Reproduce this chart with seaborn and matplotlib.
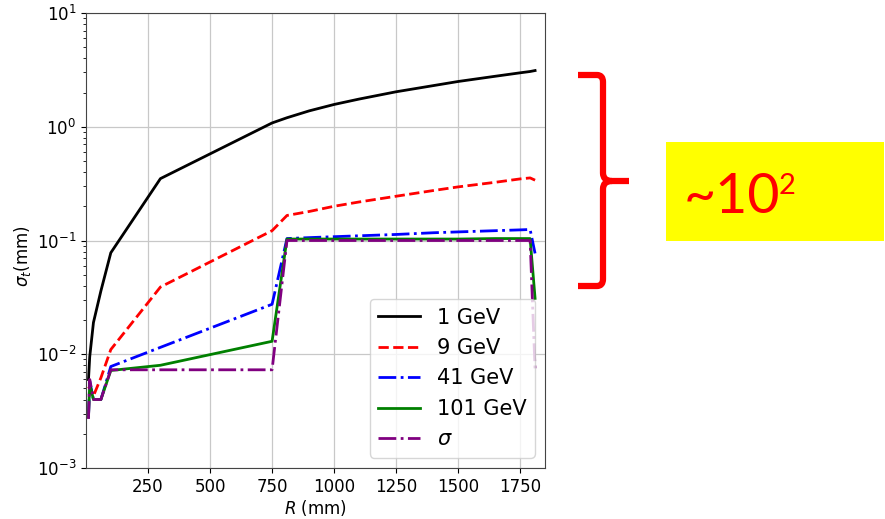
import matplotlib
matplotlib.use("Agg")
import matplotlib.pyplot as plt
import seaborn as sns
from matplotlib.path import Path
from matplotlib.patches import PathPatch, Rectangle

# Radial positions (mm) and transverse resolution sigma_t (mm) per beam energy
R = [10, 15, 30, 60, 100, 300, 750, 810, 900, 1000, 1100, 1250, 1400, 1500, 1650, 1750, 1790, 1810]

sig_1gev = [0.0060, 0.0095, 0.019, 0.036, 0.078, 0.35, 1.08, 1.20, 1.38, 1.57, 1.75, 2.03, 2.30, 2.50, 2.78, 2.98, 3.06, 3.12]
sig_9gev = [0.0050, 0.0052, 0.0043, 0.0062, 0.011, 0.039, 0.122, 0.166, 0.180, 0.200, 0.218, 0.245, 0.275, 0.296, 0.325, 0.348, 0.355, 0.339]
sig_41gev = [0.0028, 0.0058, 0.0040, 0.0040, 0.0078, 0.0115, 0.0275, 0.104, 0.106, 0.108, 0.110, 0.113, 0.117, 0.119, 0.122, 0.124, 0.125, 0.077]
sig_101gev = [0.0028, 0.0055, 0.0040, 0.0040, 0.0072, 0.0080, 0.013, 0.103, 0.103, 0.103, 0.103, 0.103, 0.103, 0.103, 0.104, 0.104, 0.104, 0.031]
sig_intr = [0.0027, 0.0060, 0.0040, 0.0040, 0.0073, 0.0073, 0.0073, 0.100, 0.100, 0.100, 0.100, 0.100, 0.100, 0.100, 0.100, 0.100, 0.100, 0.0073]

labels = ["1 GeV", "9 GeV", "41 GeV", "101 GeV", r"$\sigma$"]
series = [sig_1gev, sig_9gev, sig_41gev, sig_101gev, sig_intr]
colors = ["black", "red", "blue", "green", "purple"]
styles = ["-", "--", "-.", "-", "-."]

x_ticks = [250, 500, 750, 1000, 1250, 1500, 1750]

W, H = 885, 519
fig = plt.figure(figsize=(W / 100, H / 100), dpi=100)
fig.patch.set_facecolor("white")
ax = fig.add_axes([86 / W, (H - 468) / H, (545 - 86) / W, (468 - 13) / H])

for vals, lab, col, ls in zip(series, labels, colors, styles):
    sns.lineplot(x=R, y=vals, ax=ax, color=col, linestyle=ls, linewidth=2,
                 label=lab, sort=False, estimator=None)

ax.set_yscale("log")
ax.set_ylim(1e-3, 1e1)
ax.set_xlim(0, 1850)
ax.set_xticks(x_ticks)
ax.grid(True, which="major", color="#c8c8c8", linewidth=0.9)
ax.set_axisbelow(True)
ax.tick_params(axis="both", which="major", labelsize=12)
for sp in ax.spines.values():
    sp.set_color("#444444")
ax.set_xlabel(r"$R$ (mm)", fontsize=12, labelpad=2)
ax.set_ylabel(r"$\sigma_t$(mm)", fontsize=12)
ax.yaxis.set_label_coords(-0.115, 0.465)
ax.legend(loc="lower right", fontsize=15, framealpha=0.8)

# Curly bracket spanning the spread between the curves
def fx(x):
    return x / W

def fy(y):
    return 1 - y / H

verts = [
    (578, 75), (597, 75), (603, 75), (603, 82), (603, 173), (603, 181), (612, 181), (629, 181),
    (612, 181), (603, 181), (603, 189), (603, 279), (603, 286), (597, 286), (578, 286),
]
codes = [
    Path.MOVETO, Path.LINETO, Path.CURVE3, Path.CURVE3, Path.LINETO, Path.CURVE3, Path.CURVE3, Path.LINETO,
    Path.MOVETO, Path.CURVE3, Path.CURVE3, Path.LINETO, Path.CURVE3, Path.CURVE3, Path.LINETO,
]
brace = Path([(fx(a), fy(b)) for a, b in verts], codes)
fig.add_artist(PathPatch(brace, transform=fig.transFigure, facecolor="none",
                         edgecolor="red", linewidth=4.5, capstyle="butt", joinstyle="round"))

# Highlighted ratio label
fig.add_artist(Rectangle((fx(666), fy(241)), (884 - 666) / W, (241 - 142) / H,
                         transform=fig.transFigure, facecolor="#ffff00", edgecolor="none"))
fig.text(fx(684), fy(213), "~10", color="red", fontsize=40, family="Lato",
         ha="left", va="baseline")
fig.text(fx(779), fy(194), "2", color="red", fontsize=21, family="Lato",
         ha="left", va="baseline")

fig.savefig("out.png", dpi=100)
